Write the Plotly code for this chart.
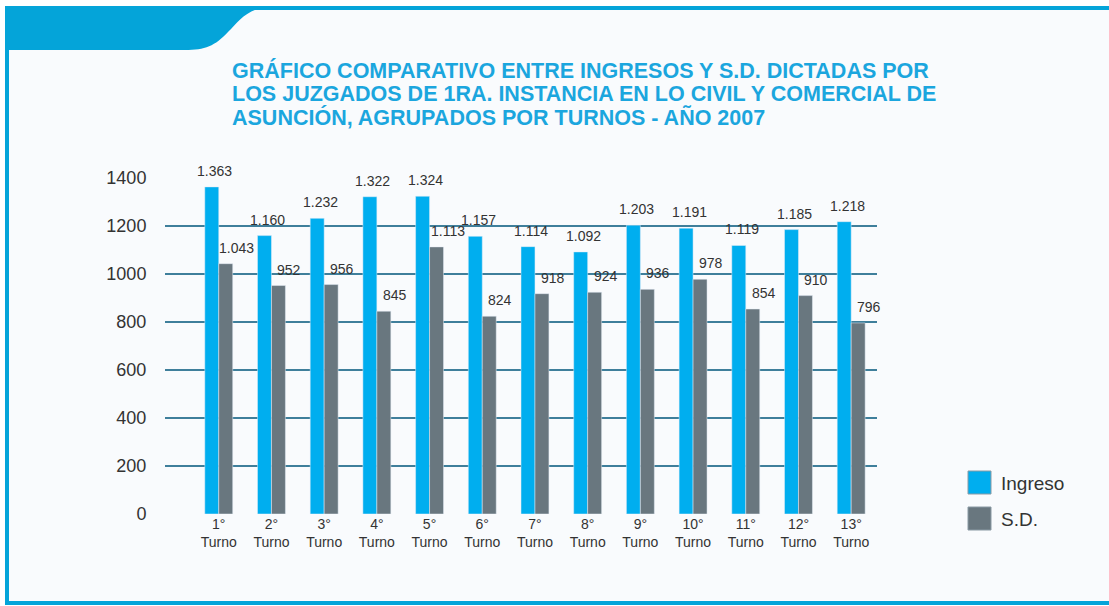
import plotly.graph_objects as go

turnos = ["1°<br>Turno", "2°<br>Turno", "3°<br>Turno", "4°<br>Turno", "5°<br>Turno",
          "6°<br>Turno", "7°<br>Turno", "8°<br>Turno", "9°<br>Turno", "10°<br>Turno",
          "11°<br>Turno", "12°<br>Turno", "13°<br>Turno"]
ingreso = [1363, 1160, 1232, 1322, 1324, 1157, 1114, 1092, 1203, 1191, 1119, 1185, 1218]
sd = [1043, 952, 956, 845, 1113, 824, 918, 924, 936, 978, 854, 910, 796]
y_ticks = [0, 200, 400, 600, 800, 1000, 1200, 1400]
titulo = ["GRÁFICO COMPARATIVO ENTRE INGRESOS Y S.D. DICTADAS POR",
          "LOS JUZGADOS DE 1RA. INSTANCIA EN LO CIVIL Y COMERCIAL DE",
          "ASUNCIÓN, AGRUPADOS POR TURNOS - AÑO 2007"]

W, H = 1109, 606
L, R, T, B = 165, 877, 178, 514   # area del grafico en pixeles


def px(x):
    return (x - L) / (R - L)


def py(y):
    return (B - y) / (B - T)


def miles(v):
    return f"{v:,}".replace(",", ".")


BLUE = "#04a4d9"
TXT = "#333333"

fig = go.Figure()
fig.add_trace(go.Bar(x=turnos, y=ingreso, name="Ingreso", marker_color="#00aeef"))
fig.add_trace(go.Bar(x=turnos, y=sd, name="S.D.", marker_color="#69777f"))

shapes = []
# fondo blanco fuera del marco
for x0, x1, y0, y1 in [(0, W, 0, 6), (0, 5, 0, H), (0, W, 605, H)]:
    shapes.append(dict(type="rect", xref="paper", yref="paper", layer="below",
                       x0=px(x0), x1=px(x1), y0=py(y1), y1=py(y0),
                       fillcolor="white", line_width=0))
# marco
for x0, x1, y0, y1 in [(5, W, 6, 10), (5, 9, 6, 605), (5, W, 601, 605)]:
    shapes.append(dict(type="rect", xref="paper", yref="paper",
                       x0=px(x0), x1=px(x1), y0=py(y1), y1=py(y0),
                       fillcolor=BLUE, line_width=0))
# pestaña superior
pts = "M {},{} L {},{} C {},{} {},{} {},{} C {},{} {},{} {},{} L {},{} Z".format(
    px(5), py(6), px(278), py(6),
    px(248), py(6), px(240), py(20), px(228), py(32),
    px(215), py(46), px(205), py(50), px(185), py(50),
    px(5), py(50))
shapes.append(dict(type="path", xref="paper", yref="paper", path=pts,
                   fillcolor=BLUE, line_width=0))
# leyenda
for (y0, c) in [(471, "#00aeef"), (507, "#69777f")]:
    shapes.append(dict(type="rect", xref="paper", yref="paper",
                       x0=px(968), x1=px(991), y0=py(y0 + 23), y1=py(y0),
                       fillcolor=c, line=dict(color="#8a9aa4", width=1)))

annotations = []
for i, linea in enumerate(titulo):
    annotations.append(dict(
        xref="paper", yref="paper", x=px(230), y=py(70 + 24 * i),
        xanchor="left", yanchor="middle", showarrow=False, text="<b>" + linea + "</b>",
        font=dict(size=21.5, color="#1ba6de", family="Liberation Sans, Arial, sans-serif")))
# etiquetas de valores
for serie, dx in [(ingreso, -4), (sd, 18)]:
    for t, v in zip(turnos, serie):
        annotations.append(dict(x=t, y=v, xref="x", yref="y", text=miles(v), showarrow=False,
                                xanchor="center", yanchor="bottom", xshift=dx, yshift=6,
                                font=dict(size=14, color=TXT)))
annotations += [
    dict(xref="paper", yref="paper", x=px(999), y=py(483), xanchor="left", yanchor="middle",
         showarrow=False, text="Ingreso", font=dict(size=19, color=TXT)),
    dict(xref="paper", yref="paper", x=px(999), y=py(519), xanchor="left", yanchor="middle",
         showarrow=False, text="S.D.", font=dict(size=19, color=TXT)),
]

fig.update_layout(
    width=W, height=H,
    margin=dict(l=L, r=W - R, t=T, b=H - B, pad=0),
    paper_bgcolor="#f9fbfd", plot_bgcolor="#f9fbfd",
    font=dict(family="Liberation Sans, Arial, sans-serif", color=TXT),
    barmode="group", bargap=0.47, bargroupgap=0,
    showlegend=False, hovermode=False,
    shapes=shapes, annotations=annotations,
    xaxis=dict(range=[-1.02, 12.49], showgrid=False, zeroline=False, showline=False,
               ticks="", tickfont=dict(size=14, color=TXT), tickangle=0, fixedrange=True),
    yaxis=dict(range=[0, 1400], tickvals=y_ticks, showgrid=True, gridcolor="#3f7f9b",
               gridwidth=2, zeroline=False, showline=False, ticks="outside", fixedrange=True,
               ticklen=14, tickcolor="rgba(0,0,0,0)", tickfont=dict(size=18, color=TXT)),
)

# sin margen en el body para que el grafico ocupe la ventana
fig.write_html("out.html", config={"displayModeBar": False},
               post_script="document.body.style.margin='0';document.body.style.overflow='hidden';")
